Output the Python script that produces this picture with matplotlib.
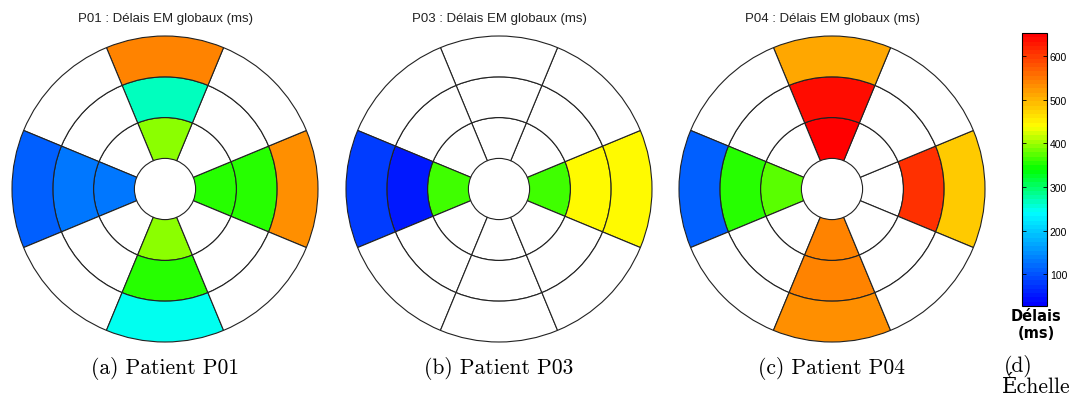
import numpy as np
import matplotlib
matplotlib.use("Agg")
import matplotlib.pyplot as plt
from matplotlib.patches import Wedge
from matplotlib.colors import LinearSegmentedColormap, Normalize
from matplotlib.cm import ScalarMappable

# secteurs : angle du centre (degres), anneaux : interieur -> exterieur
angles = [0, 45, 90, 135, 180, 225, 270, 315]
rayons = [0.2, 0.467, 0.733, 1.0]
nan = np.nan

# delais (ms) par anneau, dans l'ordre des angles
p01_int = [350, nan, 395, nan, 133, nan, 395, nan]
p01_mil = [352, nan, 267, nan, 133, nan, 355, nan]
p01_ext = [527, nan, 536, nan, 112, nan, 247, nan]

p03_int = [367, nan, nan, nan, 367, nan, nan, nan]
p03_mil = [442, nan, nan, nan, 48, nan, nan, nan]
p03_ext = [445, nan, nan, nan, 80, nan, nan, nan]

p04_int = [nan, nan, 650, nan, 375, nan, 543, nan]
p04_mil = [610, nan, 640, nan, 353, nan, 543, nan]
p04_ext = [483, nan, 515, nan, 108, nan, 533, nan]

patients = ["P01", "P03", "P04"]
donnees = [[p01_int, p01_mil, p01_ext],
           [p03_int, p03_mil, p03_ext],
           [p04_int, p04_mil, p04_ext]]
legendes = ["(a) Patient P01", "(b) Patient P03", "(c) Patient P04"]
vmin, vmax = 27, 653
ticks_cb = [100, 200, 300, 400, 500, 600]

# echelle bleu -> cyan -> vert -> jaune -> rouge
cmap = LinearSegmentedColormap.from_list(
    "delais",
    [(0.0, "#0000ff"), (0.34, "#00ffff"), (0.5, "#00ff00"),
     (0.66, "#ffff00"), (1.0, "#ff0000")], N=64)
norm = Normalize(vmin, vmax)

W, H = 1074, 402
fig = plt.figure(figsize=(W / 100, H / 100), dpi=100)
serif = ["cmr10", "DejaVu Serif"]
sans = ["Liberation Sans", "DejaVu Sans"]

centres_x = [165, 499, 832]
cy, R = 190, 153

for k in range(3):
    cx = centres_x[k]
    ax = fig.add_axes([(cx - R - 2) / W, (H - cy - R - 2) / H,
                       (2 * R + 4) / W, (2 * R + 4) / H])
    lim = (R + 2) / R
    ax.set_xlim(-lim, lim)
    ax.set_ylim(-lim, lim)
    ax.set_aspect("equal")
    ax.axis("off")
    for i, anneau in enumerate(donnees[k]):
        r_in, r_out = rayons[i], rayons[i + 1]
        for j, a in enumerate(angles):
            v = anneau[j]
            fc = "white" if np.isnan(v) else cmap(norm(v))
            ax.add_patch(Wedge((0, 0), r_out, a - 22.5, a + 22.5,
                               width=r_out - r_in, facecolor=fc,
                               edgecolor="#222222", linewidth=0.8))
    fig.text(cx / W, 1 - 19 / H, patients[k] + " : Délais EM globaux (ms)",
             ha="center", va="center", fontsize=9.5, family=sans,
             color="#222222")
    fig.text(cx / W, 1 - 368 / H, legendes[k], ha="center", va="center",
             fontsize=15.5, family=serif)

# barre de couleur
cax = fig.add_axes([1022 / W, (H - 307) / H, 25 / W, 273 / H])
cb = fig.colorbar(ScalarMappable(norm=norm, cmap=cmap), cax=cax)
cb.set_ticks(ticks_cb)
cax.yaxis.set_ticks_position("both")
cax.tick_params(direction="in", length=3, width=0.6, labelsize=7.5,
                labelright=True, labelleft=False, pad=2)
for t in cax.get_yticklabels():
    t.set_family(sans)
cb.outline.set_linewidth(0.8)

fig.text(1036 / W, 1 - 325 / H, "Délais\n(ms)", ha="center", va="center",
         fontsize=10.5, fontweight="bold", linespacing=1.15)
fig.text(1004 / W, 1 - 367 / H, "(d)", ha="left", va="center",
         fontsize=15.5, family=serif)
fig.text(1002 / W, 1 - 387 / H, "Échelle", ha="left", va="center",
         fontsize=15.5, family=serif)

fig.savefig("out.png", dpi=100)
